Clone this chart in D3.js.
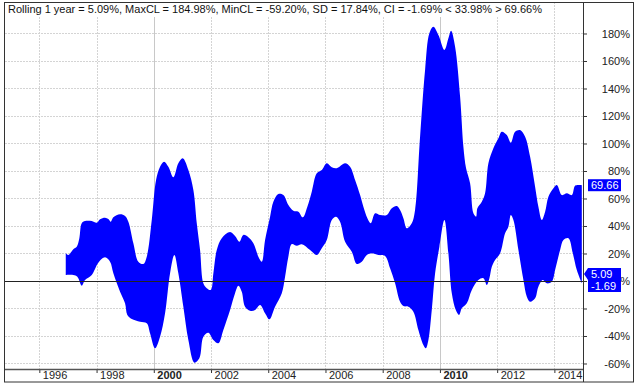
<!DOCTYPE html>
<html><head><meta charset="utf-8">
<script src="https://cdn.jsdelivr.net/npm/d3@7"></script>
<style>
html,body{margin:0;padding:0;background:#fff;}
svg{display:block;font-family:"Liberation Sans",Arial,sans-serif;}
</style></head>
<body>
<svg id="chart" width="640" height="388"></svg>
<script>
const titleText = "Rolling 1 year = 5.09%, MaxCL = 184.98%, MinCL = -59.20%, SD = 17.84%, CI = -1.69% < 33.98% > 69.66%";

const upperYears = [1996.923,1997.014,1997.188,1997.307,1997.398,1997.482,1997.597,1997.832,1998.006,1998.122,1998.297,1998.412,1998.496,1998.587,1998.821,1998.995,1999.111,1999.286,1999.460,1999.635,1999.754,1999.929,2000.079,2000.219,2000.359,2000.509,2000.684,2000.858,2001.012,2001.208,2001.383,2001.502,2001.617,2001.732,2001.851,2001.991,2002.082,2002.201,2002.375,2002.666,2002.840,2002.991,2003.130,2003.305,2003.480,2003.655,2003.773,2003.889,2004.064,2004.179,2004.354,2004.528,2004.703,2004.878,2005.053,2005.207,2005.367,2005.521,2005.696,2005.871,2006.045,2006.220,2006.395,2006.685,2006.860,2007.035,2007.210,2007.325,2007.465,2007.583,2007.734,2007.908,2008.142,2008.317,2008.492,2008.607,2008.723,2008.841,2009.016,2009.131,2009.306,2009.481,2009.631,2009.771,2009.946,2010.156,2010.296,2010.390,2010.530,2010.705,2010.820,2010.914,2011.054,2011.170,2011.264,2011.309,2011.463,2011.578,2011.694,2011.868,2012.043,2012.162,2012.337,2012.477,2012.627,2012.802,2012.977,2013.152,2013.326,2013.441,2013.560,2013.676,2013.791,2013.966,2014.085,2014.260,2014.434,2014.609,2014.724,2014.899,2014.958];
const upperPct = [20.1,18.9,23.1,24.9,31.1,42.0,43.6,43.6,42.4,44.9,46.0,45.1,43.1,46.3,48.5,47.3,43.1,27.4,14.0,12.4,17.7,44.4,73.5,83.1,86.8,83.1,75.4,85.6,89.2,80.7,66.2,42.0,22.5,-1.7,-5.3,-6.5,5.6,22.5,31.1,35.6,32.7,28.6,33.5,31.8,27.4,17.7,14.0,29.8,46.8,57.7,63.3,62.5,55.3,51.1,50.4,46.3,54.0,64.9,78.3,80.7,85.6,82.7,82.0,85.6,83.1,73.5,62.5,54.0,45.6,42.0,49.2,48.0,48.0,52.9,54.5,51.6,45.6,38.3,42.0,51.6,104.9,153.5,180.1,184.9,178.9,168.0,176.5,182.0,170.4,134.0,97.7,82.0,71.1,49.2,46.8,52.9,57.7,63.8,85.6,96.5,103.8,108.6,106.2,100.6,108.6,109.8,104.9,90.4,68.6,54.0,44.4,50.4,61.3,67.4,69.8,62.5,63.8,62.5,69.3,69.8,69.66];

const lowerYears = [1996.923,1997.188,1997.328,1997.482,1997.597,1997.832,1998.062,1998.296,1998.471,1998.587,1998.821,1998.995,1999.076,1999.230,1999.521,1999.754,1999.869,2000.044,2000.219,2000.394,2000.569,2000.719,2000.858,2001.033,2001.208,2001.418,2001.592,2001.732,2001.907,2002.082,2002.256,2002.431,2002.666,2002.840,2002.956,2003.074,2003.190,2003.364,2003.539,2003.714,2003.889,2004.039,2004.238,2004.473,2004.588,2004.703,2004.822,2004.997,2005.172,2005.462,2005.696,2005.871,2006.045,2006.220,2006.370,2006.510,2006.685,2006.919,2007.094,2007.269,2007.444,2007.618,2007.849,2008.083,2008.258,2008.433,2008.607,2008.723,2008.898,2009.072,2009.247,2009.422,2009.506,2009.597,2009.715,2009.831,2009.981,2010.156,2010.296,2010.415,2010.555,2010.670,2010.764,2010.939,2011.114,2011.344,2011.519,2011.638,2011.729,2011.813,2011.928,2012.103,2012.277,2012.393,2012.477,2012.568,2012.743,2012.918,2013.037,2013.152,2013.326,2013.441,2013.595,2013.735,2013.910,2014.025,2014.200,2014.316,2014.491,2014.644,2014.784,2014.958];
const lowerPct = [4.4,4.4,3.1,-3.4,0.7,4.4,13.3,17.2,14.0,5.6,-7.8,-16.2,-24.7,-27.6,-29.6,-30.8,-38.0,-48.9,-40.5,-23.5,5.6,18.9,5.6,-18.7,-42.9,-59.4,-56.2,-40.5,-37.6,-42.9,-45.3,-35.6,-21.1,-8.9,-3.4,-7.8,-18.7,-21.6,-21.1,-17.5,-23.5,-27.9,-18.7,-8.9,3.1,17.7,26.9,25.7,26.7,22.5,18.9,23.8,29.8,44.4,46.8,43.1,28.6,21.3,12.4,14.0,18.9,20.1,18.9,18.2,9.2,-1.7,-15.1,-18.2,-18.7,-22.3,-35.6,-46.5,-48.9,-42.9,-21.1,5.6,24.9,44.4,20.1,-8.9,-21.1,-24.7,-19.9,-16.2,-6.5,0.7,2.0,-2.9,2.0,10.4,15.3,20.1,34.7,39.5,48.0,44.4,22.5,0.7,-11.4,-15.1,-12.6,-4.1,0.7,-1.7,-0.5,8.0,22.5,29.8,31.1,20.1,8.0,-1.69];

const yTicks = [-60,-40,-20,0,20,40,60,80,100,120,140,160,180];
const xTicks = [1996,1998,2000,2002,2004,2006,2008,2010,2012,2014];
const boldYears = [2000,2010];
const lastRolling = 5.09, lastLow = -1.69, lastHigh = 69.66;

const svg = d3.select("#chart");
const L = 5, R = 583, T = 2, B = 369;
const x = d3.scaleLinear().domain([1994.8, 2015.0]).range([L, R]);
const y = d3.scaleLinear().domain([-64, 202.9]).range([B, T]);
const font = "11px";

// gridlines
const grid = svg.append("g");
grid.selectAll("line.h").data(yTicks).enter().append("line")
  .attr("x1", L).attr("x2", R)
  .attr("y1", d => Math.round(y(d)) + 0.5).attr("y2", d => Math.round(y(d)) + 0.5)
  .attr("stroke", "#d4d4d4").attr("stroke-dasharray", "2,1");
grid.selectAll("line.v").data(xTicks).enter().append("line")
  .attr("x1", d => Math.round(x(d)) + 0.5).attr("x2", d => Math.round(x(d)) + 0.5)
  .attr("y1", T).attr("y2", B)
  .attr("stroke", d => boldYears.includes(d) ? "#c8c8c8" : "#d4d4d4")
  .attr("stroke-dasharray", d => boldYears.includes(d) ? null : "2,1");

// band: smooth upper edge forward, smooth lower edge backward, joined by straight ends
const upperPts = upperYears.map((d, i) => [d, upperPct[i]]);
const lowerPts = lowerYears.map((d, i) => [d, lowerPct[i]]).reverse();
const smooth = d3.line().x(d => x(d[0])).y(d => y(d[1])).curve(d3.curveCatmullRom.alpha(0.5));
const upPath = smooth(upperPts);
const lowPath = smooth(lowerPts).replace(/^M/, "L");
svg.append("path").attr("d", upPath + lowPath + "Z").attr("fill", "#0000ff").attr("stroke", "none");

// zero line
svg.append("line").attr("x1", L).attr("x2", R)
  .attr("y1", Math.round(y(0)) + 0.5).attr("y2", Math.round(y(0)) + 0.5)
  .attr("stroke", "#222").attr("stroke-width", 1);

// title with white background
const title = svg.append("text").attr("x", 8).attr("y", 13)
  .attr("font-size", font).attr("fill", "#111").text(titleText);
const tw = title.node().getComputedTextLength();
svg.insert("rect", "text").attr("x", L).attr("y", T).attr("width", tw + 6).attr("height", 15).attr("fill", "#fff");

// right axis
const yAxis = svg.append("g").attr("transform", `translate(${R},0)`)
  .call(d3.axisRight(y).tickValues(yTicks).tickFormat(d => d + "%").tickSize(4));
yAxis.select(".domain").remove();
yAxis.selectAll(".tick line").attr("stroke", "#333");
yAxis.selectAll(".tick text").attr("x", 47).attr("text-anchor", "end").attr("dy", "0.35em")
  .attr("font-size", font).attr("font-family", "Liberation Sans, Arial, sans-serif").attr("fill", "#222");

// bottom axis
const xAxis = svg.append("g").attr("transform", `translate(0,${B})`)
  .call(d3.axisBottom(x).tickValues(xTicks).tickFormat(d => String(d)).tickSize(4));
xAxis.select(".domain").remove();
xAxis.selectAll(".tick line").attr("stroke", "#333");
xAxis.selectAll(".tick text").attr("x", 3).attr("y", 2).attr("dy", "0.71em").attr("text-anchor", "start")
  .attr("font-size", font).attr("font-family", "Liberation Sans, Arial, sans-serif").attr("fill", "#222")
  .attr("font-weight", d => boldYears.includes(d) ? "bold" : "normal");

// frame lines
svg.append("line").attr("x1", L).attr("x2", R).attr("y1", B + 0.5).attr("y2", B + 0.5).attr("stroke", "#555").attr("stroke-width", 1.5);
svg.append("line").attr("x1", R + 0.5).attr("x2", R + 0.5).attr("y1", T).attr("y2", 382).attr("stroke", "#333");
svg.append("rect").attr("x", 4.5).attr("y", 2.5).attr("width", 629).attr("height", 379.5)
  .attr("fill", "none").attr("stroke", "#333");

// end labels
function label(val, cy, arrow) {
  const g = svg.append("g");
  const x0 = R + 5, w = 33, h = 12;
  const top = cy - h / 2;
  if (arrow) {
    g.append("path").attr("d", `M${R + 1},${cy} L${x0},${top} L${x0 + w},${top} L${x0 + w},${top + h} L${x0},${top + h} Z`).attr("fill", "#0000ff");
  } else {
    g.append("rect").attr("x", x0).attr("y", top).attr("width", w).attr("height", h).attr("fill", "#0000ff");
  }
  g.append("text").attr("x", x0 + 3).attr("y", cy).attr("dy", "0.36em")
    .attr("font-size", font).attr("fill", "#fff").text(val.toFixed(2));
}
label(lastHigh, y(lastHigh), false);
const cyR = y(lastRolling);
label(lastRolling, cyR, true);
label(lastLow, Math.max(y(lastLow), cyR + 12), false);
</script>
</body></html>
